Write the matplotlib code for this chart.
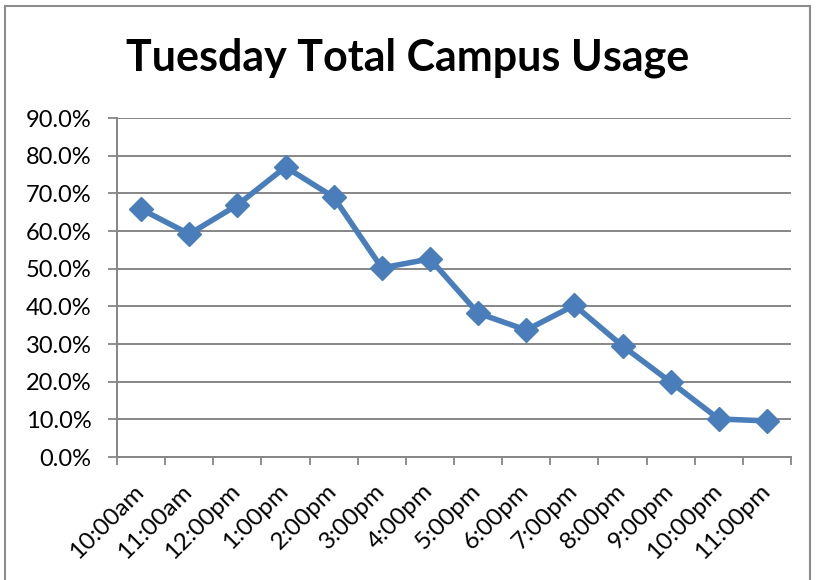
import matplotlib.pyplot as plt
from matplotlib.patches import Rectangle
from matplotlib.ticker import FixedLocator, PercentFormatter
from matplotlib.transforms import ScaledTranslation

hours = ["10:00am", "11:00am", "12:00pm", "1:00pm", "2:00pm", "3:00pm", "4:00pm",
         "5:00pm", "6:00pm", "7:00pm", "8:00pm", "9:00pm", "10:00pm", "11:00pm"]
usage = [65.8, 59.2, 66.9, 77.0, 69.0, 50.2, 52.6, 38.2, 33.7, 40.3, 29.5, 19.9, 10.1, 9.6]
y_ticks = [0, 10, 20, 30, 40, 50, 60, 70, 80, 90]


def main() -> None:
    plt.rcParams["font.family"] = ["Lato", "DejaVu Sans"]
    fig = plt.figure(figsize=(8.16, 5.8), dpi=100)
    ax = fig.add_axes([0.1434, 0.212, 0.826, 0.5845])

    # chart frame
    fig.patches.append(Rectangle((0.006, -0.01), 0.987, 1.0, transform=fig.transFigure,
                                 fill=False, edgecolor="#8c8c8c", linewidth=1.5))

    x = range(len(hours))
    ax.plot(x, usage, color="#4a7ebb", linewidth=4, marker="D", markersize=12,
            markeredgecolor="#4a7ebb", zorder=3)

    ax.set_xlim(-0.5, len(hours) - 0.5)
    ax.set_ylim(0, 90)
    ax.set_yticks(y_ticks)
    ax.yaxis.set_major_formatter(PercentFormatter(decimals=1))
    ax.set_xticks(list(x))
    ax.set_xticklabels(hours, rotation=45, ha="right", rotation_mode="anchor")
    ax.xaxis.set_major_locator(FixedLocator(list(x)))
    ax.tick_params(axis="x", length=0, labelsize=17.5, pad=17)
    ax.xaxis.set_minor_locator(FixedLocator([i - 0.5 for i in range(len(hours) + 1)]))
    ax.tick_params(axis="x", which="minor", length=6, width=1.3, color="#868686")
    ax.tick_params(axis="y", length=6.5, width=1.3, color="#868686", labelsize=17, pad=12)
    shift = ScaledTranslation(-0.08, 0, fig.dpi_scale_trans)
    for lbl in ax.get_xticklabels():
        lbl.set_transform(lbl.get_transform() + shift)

    ax.grid(axis="y", color="#868686", linewidth=1.4)
    ax.set_axisbelow(True)
    for side in ("top", "right"):
        ax.spines[side].set_visible(False)
    for side in ("left", "bottom"):
        ax.spines[side].set_color("#868686")
        ax.spines[side].set_linewidth(1.4)

    fig.text(0.5, 0.90, "Tuesday Total Campus Usage", ha="center", va="center",
             fontsize=31, fontweight="bold")

    fig.savefig("out.png", dpi=100)


if __name__ == "__main__":
    main()
